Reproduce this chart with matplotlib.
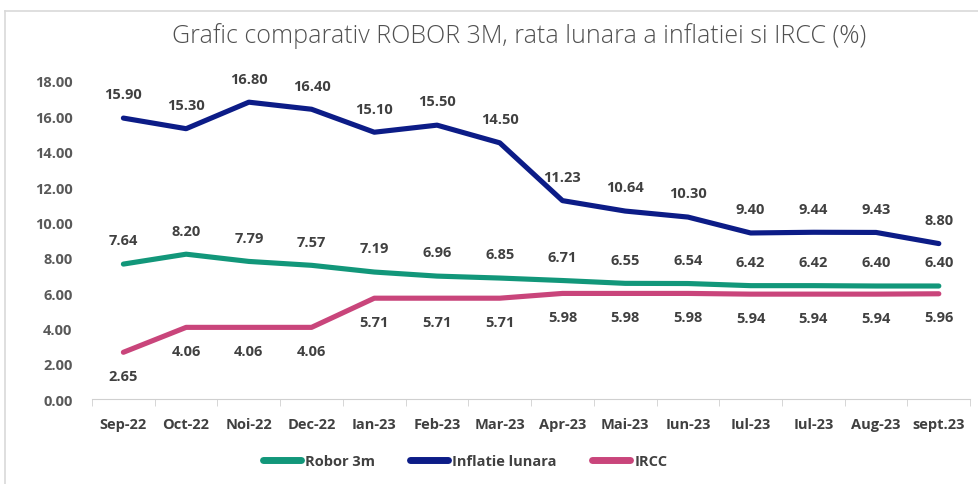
import matplotlib.pyplot as plt
from matplotlib.lines import Line2D

# Data
months = ['Sep-22', 'Oct-22', 'Noi-22', 'Dec-22', 'Ian-23', 'Feb-23', 'Mar-23',
          'Apr-23', 'Mai-23', 'Iun-23', 'Iul-23', 'Iul-23', 'Aug-23', 'sept.23']
robor = [7.64, 8.20, 7.79, 7.57, 7.19, 6.96, 6.85, 6.71, 6.55, 6.54, 6.42, 6.42, 6.40, 6.40]
inflatie = [15.90, 15.30, 16.80, 16.40, 15.10, 15.50, 14.50, 11.23, 10.64, 10.30,
            9.40, 9.44, 9.43, 8.80]
ircc = [2.65, 4.06, 4.06, 4.06, 5.71, 5.71, 5.71, 5.98, 5.98, 5.98, 5.94, 5.94, 5.94, 5.96]

c_robor = '#12977a'
c_infl = '#0c1c87'
c_ircc = '#c9457b'

plt.rcParams['font.family'] = ['Open Sans', 'DejaVu Sans']

fig = plt.figure(figsize=(9.79, 4.85), dpi=100)
ax = fig.add_axes([0.094, 0.175, 0.897, 0.656])

x = list(range(len(months)))
ax.plot(x, robor, color=c_robor, lw=3.7, solid_capstyle='round')
ax.plot(x, inflatie, color=c_infl, lw=3.7, solid_capstyle='round')
ax.plot(x, ircc, color=c_ircc, lw=3.7, solid_capstyle='round')

lbl = dict(ha='center', fontsize=10.5, fontweight='bold', color='#404040', clip_on=False)
for i in x:
    ax.annotate(f'{inflatie[i]:.2f}', (i, inflatie[i]), xytext=(0, 12),
                textcoords='offset points', va='bottom', **lbl)
    ax.annotate(f'{robor[i]:.2f}', (i, robor[i]), xytext=(0, 12),
                textcoords='offset points', va='bottom', **lbl)
    ax.annotate(f'{ircc[i]:.2f}', (i, ircc[i]), xytext=(0, -12),
                textcoords='offset points', va='top', **lbl)

ax.set_xlim(-0.5, len(months) - 0.5)
ax.set_ylim(0, 18)
ax.set_yticks(range(0, 19, 2))
ax.set_yticklabels([f'{v:.2f}' for v in range(0, 19, 2)])
ax.set_xticks(x)
ax.set_xticklabels(months)
ax.set_xticks([i - 0.5 for i in range(len(months) + 1)], minor=True)

for s in ['top', 'right', 'left']:
    ax.spines[s].set_visible(False)
ax.spines['bottom'].set_color('#d0d0d0')
ax.tick_params(axis='y', length=0, pad=14, labelsize=10.5, labelcolor='#595959')
ax.tick_params(axis='x', which='major', length=0, pad=13, labelsize=10.5, labelcolor='#404040')
ax.tick_params(axis='x', which='minor', length=5, color='#d0d0d0')
for t in ax.get_xticklabels() + ax.get_yticklabels():
    t.set_fontweight('bold')

fig.text(0.53, 0.925, 'Grafic comparativ ROBOR 3M, rata lunara a inflatiei si IRCC (%)',
         ha='center', va='center', fontsize=18, color='#505050', fontweight='light')

handles = [Line2D([], [], color=c_robor, lw=5, solid_capstyle='round'),
           Line2D([], [], color=c_infl, lw=5, solid_capstyle='round'),
           Line2D([], [], color=c_ircc, lw=5, solid_capstyle='round')]
fig.legend(handles, ['Robor 3m', 'Inflatie lunara', 'IRCC'], loc='center',
           bbox_to_anchor=(0.475, 0.048), ncol=3, frameon=False, handlelength=2.6,
           handletextpad=0.3, columnspacing=2.4,
           prop={'size': 10.5, 'weight': 'bold'}, labelcolor='#404040')

# light frame visible at the top and left edges
fig.add_artist(Line2D([0.005, 1.0], [0.975, 0.975], color='#d9d9d9', lw=1.2))
fig.add_artist(Line2D([0.005, 0.005], [0.0, 0.975], color='#d9d9d9', lw=1.2))

fig.savefig('out.png', dpi=100)
